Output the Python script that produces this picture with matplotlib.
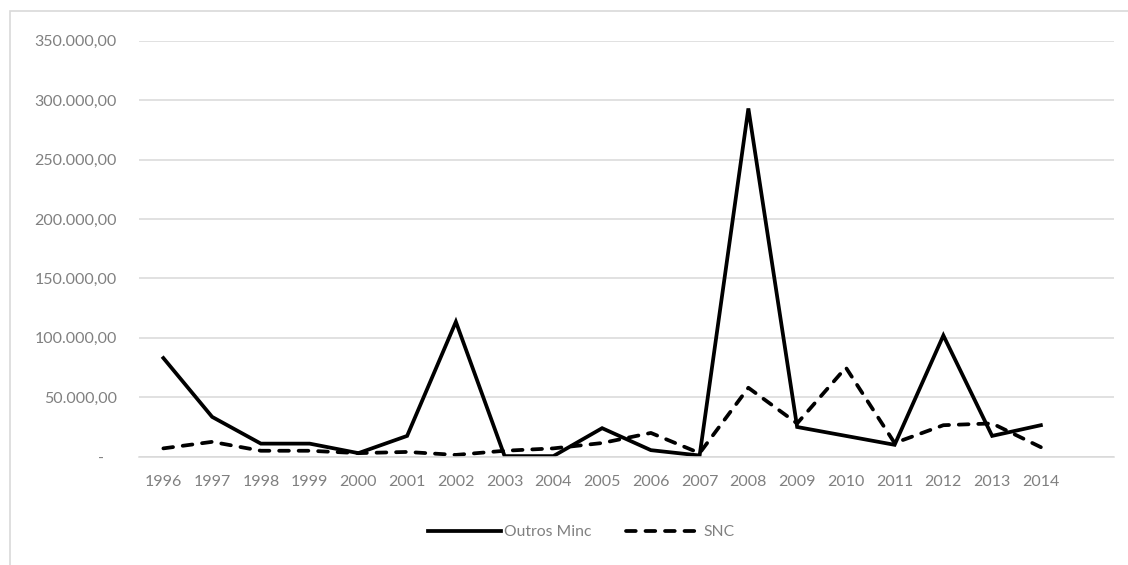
import matplotlib
matplotlib.use("Agg")
import matplotlib.pyplot as plt
from matplotlib.patches import Rectangle
from matplotlib.ticker import FuncFormatter

years = ["1996", "1997", "1998", "1999", "2000", "2001", "2002", "2003", "2004", "2005",
         "2006", "2007", "2008", "2009", "2010", "2011", "2012", "2013", "2014"]
outros_minc = [83000, 33500, 11000, 11000, 3000, 17500, 113500, 500, 500, 24000,
               5500, 1000, 293000, 25000, 17500, 10000, 102000, 17500, 26500]
snc = [7000, 12500, 5000, 5000, 3000, 4000, 1500, 5000, 7000, 11500,
       20000, 3000, 58000, 28000, 75000, 11500, 26500, 28000, 8000]
y_ticks = [0, 50000, 100000, 150000, 200000, 250000, 300000, 350000]
series_names = ["Outros Minc", "SNC"]

plt.rcParams['font.family'] = ['Lato', 'DejaVu Sans']

W, H = 1128, 565
fig = plt.figure(figsize=(W / 100, H / 100), dpi=100)

# outer chart frame
fig.patches.append(Rectangle((10 / W, -0.1), 1.2, (H - 11) / H + 0.1, transform=fig.transFigure,
                             fill=False, edgecolor='#d9d9d9', linewidth=1.2))

left, right = 139 / W, 1114 / W
bottom, top = (H - 456.7) / H, (H - 40.7) / H
ax = fig.add_axes([left, bottom, right - left, top - bottom])

x = list(range(len(years)))
ax.plot(x, outros_minc, color='black', linewidth=2.7, solid_joinstyle='miter',
        label=series_names[0])
ax.plot(x, snc, color='black', linewidth=2.7, linestyle=(0, (2.6, 2.6)),
        dash_capstyle='round', label=series_names[1])

ax.set_xlim(-0.5, len(years) + 0.5)
ax.set_ylim(0, 350000)
ax.set_yticks(y_ticks)
ax.yaxis.set_major_formatter(FuncFormatter(
    lambda v, p: '-   ' if v == 0 else f"{v:,.2f}".replace(',', 'X').replace('.', ',').replace('X', '.')))
ax.set_xticks(x)
ax.set_xticklabels(years)

ax.grid(axis='y', color='#d9d9d9', linewidth=1.1)
ax.set_axisbelow(True)
for s in ax.spines.values():
    s.set_visible(False)
ax.spines['bottom'].set_visible(True)
ax.spines['bottom'].set_color('#d9d9d9')
ax.spines['bottom'].set_linewidth(1.1)
ax.tick_params(axis='both', length=0, labelcolor='#808080', labelsize=11.5)
ax.tick_params(axis='y', pad=16)
ax.tick_params(axis='x', pad=13)

leg = fig.legend(loc='center', bbox_to_anchor=(581 / W, (H - 532) / H), ncol=2, frameon=False,
                 fontsize=11.3, handlelength=4.7, columnspacing=2.2, handletextpad=0.2)
for t in leg.get_texts():
    t.set_color('#808080')

fig.savefig('out.png', dpi=100)
